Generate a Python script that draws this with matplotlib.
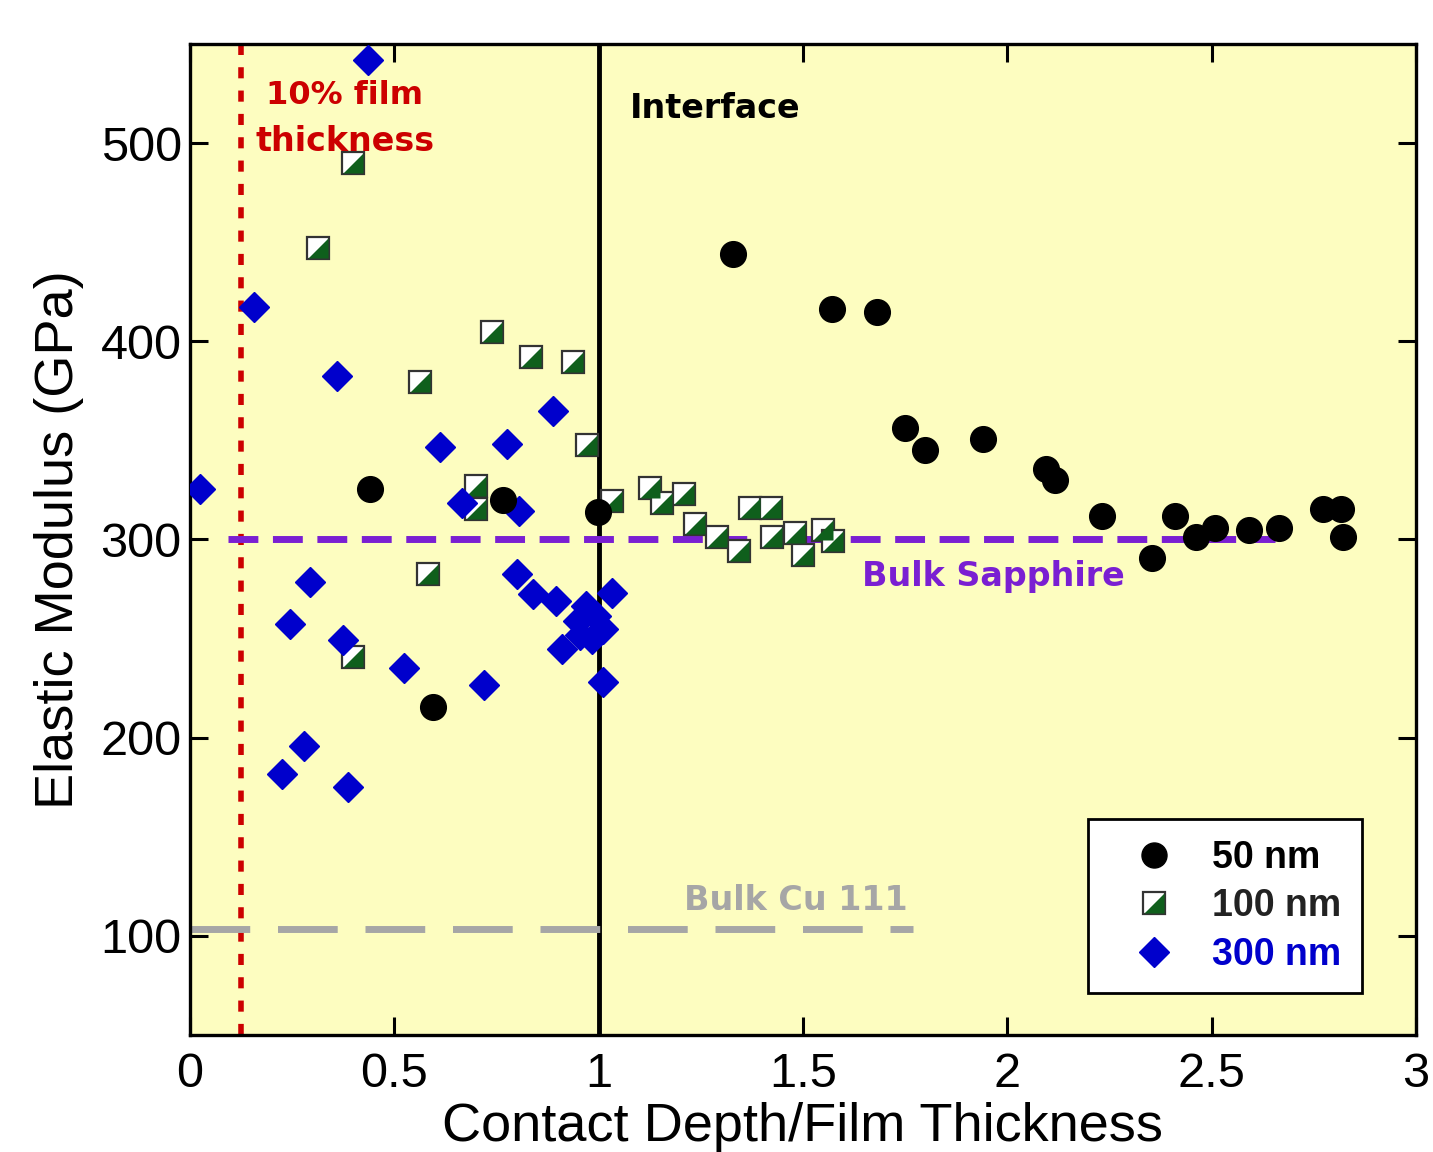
import matplotlib
matplotlib.use('Agg')
import matplotlib.pyplot as plt
from matplotlib.lines import Line2D
from matplotlib.legend_handler import HandlerTuple
from matplotlib.path import Path

# ── data ───────────────────────────────────────────────────
x50 = [0.44, 0.595, 0.766, 0.998, 1.329, 1.571, 1.681, 1.749, 1.798, 1.940,
       2.094, 2.116, 2.231, 2.354, 2.410, 2.461, 2.508, 2.591, 2.665, 2.772,
       2.816, 2.821]
y50 = [325.7, 215.4, 320.0, 314.0, 444.0, 416.4, 414.9, 356.4, 345.3, 350.9,
       335.8, 330.2, 311.6, 290.9, 311.6, 301.5, 306.0, 305.0, 306.0, 315.6,
       315.6, 301.5]

x100 = [0.313, 0.399, 0.739, 0.834, 0.937, 0.563, 0.971, 0.700, 0.700, 1.033,
        0.582, 0.399, 1.126, 1.155, 1.209, 1.236, 1.289, 1.343, 1.370, 1.422,
        1.424, 1.480, 1.500, 1.549, 1.573]
y100 = [447.1, 489.9, 404.8, 392.2, 389.7, 379.6, 347.9, 327.2, 315.6, 319.6,
        282.4, 240.6, 326.2, 318.6, 322.7, 307.6, 301.5, 294.0, 316.1, 316.1,
        301.5, 303.5, 292.4, 305.0, 299.0]

x300 = [0.435, 0.157, 0.024, 0.360, 0.612, 0.776, 0.888, 0.666, 0.805, 0.294,
        0.245, 0.374, 0.524, 0.719, 0.800, 0.839, 0.896, 1.033, 0.910, 0.279,
        0.225, 0.387, 1.011, 0.969, 0.949, 0.993, 1.011, 0.984, 0.954]
y300 = [541.8, 417.4, 325.7, 382.6, 346.9, 348.4, 365.0, 318.6, 314.6, 278.3,
        257.2, 249.1, 235.0, 226.4, 282.4, 272.3, 268.8, 272.8, 244.6, 195.7,
        181.6, 175.1, 228.0, 266.2, 258.7, 261.2, 254.7, 249.6, 251.6]

film_10pct = 0.125
interface_x = 1.0
sapphire_E = 300
sapphire_span = (0.093, 2.655)
cu_E = 103.5
cu_span = (0.0, 1.77)

xticks = [0, 0.5, 1, 1.5, 2, 2.5, 3]
xticklabels = ['0', '0.5', '1', '1.5', '2', '2.5', '3']
yticks = [100, 200, 300, 400, 500]

# ── colours ────────────────────────────────────────────────
BG     = '#FDFDC0'
RED    = '#CC0000'
PURPLE = '#7A1FD2'
GREY   = '#A6A6A6'
GREEN  = '#0F5F1C'
BLUE   = '#0000CC'

plt.rcParams['font.family'] = ['Liberation Sans', 'DejaVu Sans']

fig = plt.figure(figsize=(14.33, 11.52), dpi=100)
ax = fig.add_axes([0.1326, 0.1016, 0.8555, 0.8602])
ax.set_facecolor(BG)

# lower-right triangle for the half-filled squares
tri = Path([(0.5, 0.5), (0.5, -0.5), (-0.5, -0.5), (0.5, 0.5)],
           [Path.MOVETO, Path.LINETO, Path.LINETO, Path.CLOSEPOLY])

# reference lines
ax.axvline(film_10pct, color=RED, lw=4, ls=(0, (2, 2.2)), zorder=2)
ax.axvline(interface_x, color='black', lw=3.5, zorder=2)
ax.plot(sapphire_span, [sapphire_E]*2, color=PURPLE, lw=5, ls=(0, (4.3, 2.1)), zorder=2)
ax.plot(cu_span, [cu_E]*2, color=GREY, lw=5, ls=(0, (8.6, 4.0)), zorder=2)

# data
ax.plot(x50, y50, 'o', ms=18.5, color='black', mec='black', zorder=4)
ax.plot(x100, y100, 's', ms=16, mfc='white', mec='#333333', mew=1.6, zorder=3)
ax.plot(x100, y100, marker=tri, ls='none', ms=14.5, mfc=GREEN, mec='none', zorder=3)
ax.plot(x300, y300, 'D', ms=15, color=BLUE, mec=BLUE, zorder=3)

# annotations
ann = dict(family='DejaVu Sans', fontweight='bold', fontsize=24)
ax.text(0.379, 524, '10% film', color=RED, ha='center', va='center',
        **{**ann, 'fontsize': 23})
ax.text(0.379, 501, 'thickness', color=RED, ha='center', va='center', **ann)
ax.text(1.077, 517.6, 'Interface', color='black', ha='left', va='center', **ann)
ax.text(1.644, 281.4, 'Bulk Sapphire', color=PURPLE, ha='left', va='center', **ann)
ax.text(1.209, 118, 'Bulk Cu 111', color=GREY, ha='left', va='center', **ann)

ax.set_xlim(0, 3)
ax.set_ylim(50, 550)
ax.set_xticks(xticks)
ax.set_xticklabels(xticklabels)
ax.set_yticks(yticks)
ax.tick_params(direction='in', length=13, width=2.2, labelsize=35,
               top=True, right=True)
ax.tick_params(axis='x', pad=12)
ax.tick_params(axis='y', pad=6)
for s in ax.spines.values():
    s.set_linewidth(2.4)

ax.set_xlabel('Contact Depth/Film Thickness', fontsize=39, labelpad=4)
ax.set_ylabel('Elastic Modulus (GPa)', fontsize=39, labelpad=12)

# legend
h50 = Line2D([], [], ls='none', marker='o', ms=18, color='black')
hsq = Line2D([], [], ls='none', marker='s', ms=16, mfc='white', mec='#333333', mew=1.6)
htr = Line2D([], [], ls='none', marker=tri, ms=14.5, mfc=GREEN, mec='none')
h300 = Line2D([], [], ls='none', marker='D', ms=15, color=BLUE)
leg = ax.legend([h50, (hsq, htr), h300], ['50 nm', '100 nm', '300 nm'],
                handler_map={tuple: HandlerTuple(ndivide=1, pad=0)},
                loc='lower right', bbox_to_anchor=(0.956, 0.042),
                fancybox=False, framealpha=1, edgecolor='black',
                prop=dict(family='Liberation Sans', weight='bold', size=27),
                handlelength=2.4, handletextpad=0.35, borderpad=0.55,
                labelspacing=0.33, borderaxespad=0)
leg.get_frame().set_linewidth(2)
for t, c in zip(leg.get_texts(), ['black', '#222222', BLUE]):
    t.set_color(c)

fig.savefig('out.png', dpi=100)
